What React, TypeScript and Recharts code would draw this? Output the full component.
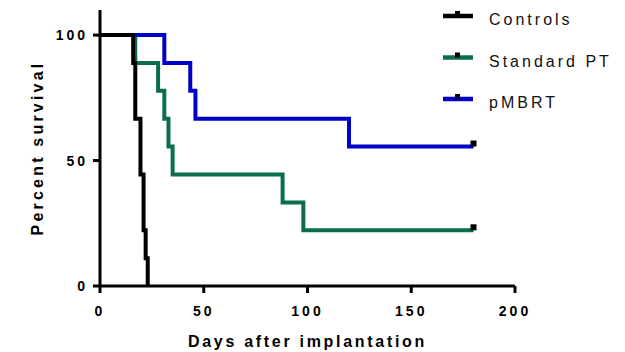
import React from "react";
import { Line, LineChart, XAxis, YAxis, Label } from "recharts";

// Kaplan-Meier steps: [day, percent survival]
const controlsDays = [0, 16, 17, 19.5, 21, 22, 23];
const controlsPct = [100, 88.9, 66.7, 44.4, 22.2, 11.1, 0];

const standardDays = [0, 17, 28, 31, 33, 35, 88, 98, 180];
const standardPct = [100, 88.9, 77.8, 66.7, 55.6, 44.4, 33.3, 22.2, 22.2];

const pmbrtDays = [0, 31, 43.5, 46, 120, 180];
const pmbrtPct = [100, 88.9, 77.8, 66.7, 55.6, 55.6];

const xTicks = [0, 50, 100, 150, 200];
const yTicks = [0, 50, 100];

const toRows = (days: number[], pct: number[]) =>
  days.map((day, i) => ({ day, pct: pct[i] }));

const controls = toRows(controlsDays, controlsPct);
const standard = toRows(standardDays, standardPct);
const pmbrt = toRows(pmbrtDays, pmbrtPct);

const FONT = "'Liberation Sans', Arial, sans-serif";

// censor tick only on last point of curve that doesn't reach zero
function censorDot(rows: { day: number; pct: number }[]) {
  const last = rows.length - 1;
  return (p: any) => {
    if (p.index !== last || rows[last].pct === 0) return <g key={p.index} />;
    return (
      <rect key={p.index} x={p.cx - 3} y={p.cy - 6} width={6} height={6} fill="#000" />
    );
  };
}

const series = [
  { name: "Controls", color: "#000000" },
  { name: "Standard PT", color: "#0B6E4A" },
  { name: "pMBRT", color: "#0000C8" },
];

// legend drawn as overlay so it doesn't eat chart height
function LegendBox() {
  return (
    <svg
      width={185}
      height={120}
      style={{ position: "absolute", left: 440, top: 0 }}
    >
      {series.map((s, i) => {
        const y = 16 + i * 41.5;
        return (
          <g key={s.name}>
            <line x1={3} x2={33} y1={y} y2={y} stroke={s.color} strokeWidth={4.5} />
            <rect x={15} y={y - 5} width={5} height={5} fill="#000" />
            <text
              x={49}
              y={y + 9}
              fontFamily={FONT}
              fontSize={16}
              letterSpacing={3}
              fill="#111"
            >
              {s.name}
            </text>
          </g>
        );
      })}
    </svg>
  );
}

const axisStyle = { stroke: "#000", strokeWidth: 3 };
const tickStyle = {
  fill: "#000",
  fontSize: 14,
  fontWeight: 700,
  fontFamily: FONT,
  letterSpacing: 3,
};

export default function App() {
  return (
    <div
      style={{
        position: "absolute",
        left: 0,
        top: 0,
        width: 625,
        height: 352,
        background: "#fff",
      }}
    >
      <LineChart
        width={625}
        height={352}
        margin={{ top: 10, right: 110, bottom: 0, left: 20 }}
      >
        <XAxis
          dataKey="day"
          type="number"
          domain={[0, 200]}
          ticks={xTicks}
          allowDataOverflow
          height={66}
          tickSize={7}
          tickMargin={13}
          axisLine={axisStyle}
          tickLine={axisStyle}
          tick={tickStyle}
        >
          <Label
            content={(props: any) => {
              const vb = props.viewBox;
              return (
                <text
                  x={vb.x + vb.width / 2}
                  y={vb.y + 61}
                  textAnchor="middle"
                  fontFamily={FONT}
                  fontSize={16}
                  fontWeight={700}
                  letterSpacing={2.7}
                  fill="#000"
                >
                  Days after implantation
                </text>
              );
            }}
          />
        </XAxis>
        <YAxis
          type="number"
          domain={[0, 110]}
          ticks={yTicks}
          width={80}
          tickSize={7}
          tickMargin={5}
          axisLine={axisStyle}
          tickLine={axisStyle}
          tick={tickStyle}
        >
          <Label
            content={(props: any) => {
              const vb = props.viewBox;
              const cx = vb.x + 17;
              const cy = vb.y + vb.height / 2;
              return (
                <text
                  x={cx}
                  y={cy}
                  transform={`rotate(-90 ${cx} ${cy})`}
                  textAnchor="middle"
                  dominantBaseline="central"
                  fontFamily={FONT}
                  fontSize={16}
                  fontWeight={700}
                  letterSpacing={3.2}
                  fill="#000"
                >
                  Percent survival
                </text>
              );
            }}
          />
        </YAxis>
        <Line
          data={standard}
          dataKey="pct"
          name="Standard PT"
          type="stepAfter"
          stroke="#0B6E4A"
          strokeWidth={4}
          dot={censorDot(standard)}
          activeDot={false}
          isAnimationActive={false}
        />
        <Line
          data={pmbrt}
          dataKey="pct"
          name="pMBRT"
          type="stepAfter"
          stroke="#0000C8"
          strokeWidth={4}
          dot={censorDot(pmbrt)}
          activeDot={false}
          isAnimationActive={false}
        />
        <Line
          data={controls}
          dataKey="pct"
          name="Controls"
          type="stepAfter"
          stroke="#000000"
          strokeWidth={4}
          dot={censorDot(controls)}
          activeDot={false}
          isAnimationActive={false}
        />
      </LineChart>
      <LegendBox />
    </div>
  );
}
